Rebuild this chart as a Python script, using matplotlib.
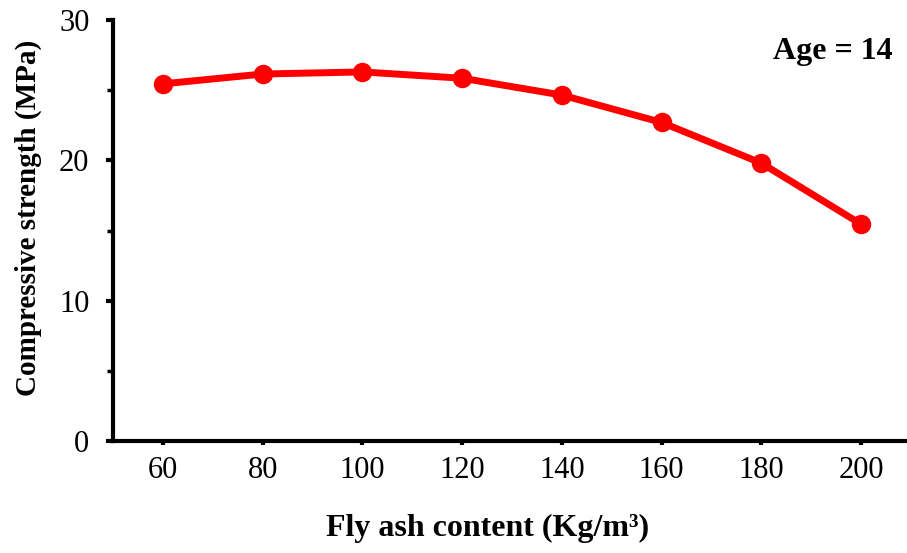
import matplotlib
matplotlib.use("Agg")
import matplotlib.pyplot as plt
from matplotlib.ticker import MultipleLocator

# compressive strength at 14 days vs fly ash dosage
fly_ash = [60, 80, 100, 120, 140, 160, 180, 200]
strength = [25.45, 26.15, 26.3, 25.85, 24.65, 22.7, 19.8, 15.45]
x_ticks = [60, 80, 100, 120, 140, 160, 180, 200]
y_ticks = [0, 10, 20, 30]

plt.rcParams['font.family'] = ['Liberation Serif', 'DejaVu Serif']
FS = 22

fig = plt.figure(figsize=(9.07, 5.53), dpi=100)
ax = fig.add_axes([113/907, 112/553, 794/907, 421/553])

ax.plot(fly_ash, strength, color='#ff0000', lw=5, marker='o', ms=13,
        solid_capstyle='round', clip_on=False, zorder=3)

ax.set_xlim(50, 209.2)
ax.set_ylim(0, 30)
ax.set_xticks(x_ticks)
ax.set_yticks(y_ticks)
ax.yaxis.set_minor_locator(MultipleLocator(5))

for s in ['top', 'right']:
    ax.spines[s].set_visible(False)
for s in ['left', 'bottom']:
    ax.spines[s].set_linewidth(3)

ax.tick_params(axis='y', which='major', direction='out', length=5, width=3,
               labelsize=FS, pad=12)
ax.tick_params(axis='y', which='minor', direction='out', length=4, width=2.5)
ax.tick_params(axis='x', which='major', direction='out', length=3, width=3,
               labelsize=FS, pad=8)

fig.text(488/907, 25/553, 'Fly ash content (Kg/m³)', ha='center',
         va='center', fontsize=23, fontweight='bold')
fig.text(28/907, (553 - 218)/553, 'Compressive strength (MPa)', ha='center',
         va='center', rotation=90, fontsize=21, fontweight='bold')
ax.text(893/907, (553 - 52)/553, 'Age = 14', transform=fig.transFigure,
        ha='right', va='center', fontsize=23, fontweight='bold')

fig.savefig('out.png', dpi=100)
